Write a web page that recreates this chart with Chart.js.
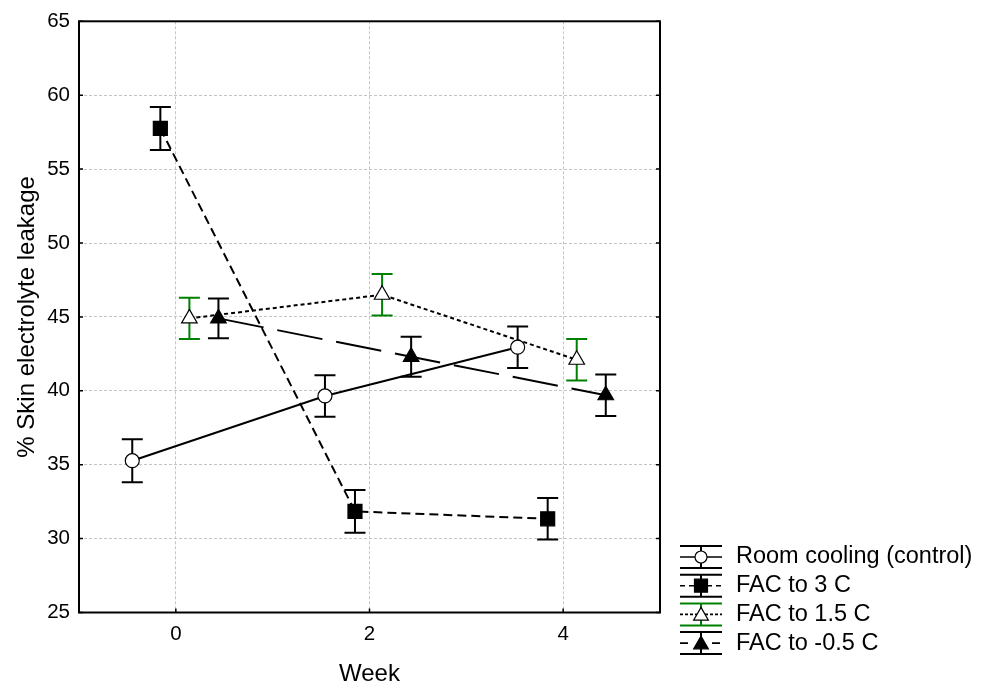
<!DOCTYPE html>
<html>
<head>
<meta charset="utf-8">
<script src="https://cdn.jsdelivr.net/npm/chart.js"></script>
<style>
  html,body{margin:0;padding:0;background:#fff;}
  #wrap{width:984px;height:690px;}
</style>
</head>
<body>
<div id="wrap"><canvas id="c" width="984" height="690"></canvas></div>
<script>
// values
const seriesNames = ["Room cooling (control)", "FAC to 3 C", "FAC to 1.5 C", "FAC to -0.5 C"];
const roomX  = [-0.45, 1.54, 3.53];
const roomY  = [35.27, 39.65, 42.95];
const roomE  = [1.45, 1.4, 1.4];
const fac3X  = [-0.16, 1.85, 3.84];
const fac3Y  = [57.75, 31.84, 31.34];
const fac3E  = [1.45, 1.45, 1.4];
const fac15X = [0.14, 2.13, 4.14];
const fac15Y = [44.9, 46.5, 42.1];
const fac15E = [1.4, 1.4, 1.4];
const facm05X = [0.44, 2.43, 4.44];
const facm05Y = [44.9, 42.3, 39.7];
const facm05E = [1.35, 1.35, 1.4];
const xTicks = [0, 2, 4];
const yTicks = [25, 30, 35, 40, 45, 50, 55, 60, 65];

const FONT = "'Liberation Sans', Arial, sans-serif";
const pts = (xs, ys) => xs.map((x, i) => ({x, y: ys[i]}));

const styles = [
  {dash: [], shape: "circle", fill: "#fff", r: 7, err: "#000", ld: []},
  {dash: [9, 5], shape: "rect", fill: "#000", r: 7, err: "#000", ld: [5, 4]},
  {dash: [4, 3], shape: "triangle", fill: "#fff", r: 9, err: "#008000", ld: [3, 2]},
  {dash: [46, 14], shape: "triangle", fill: "#000", r: 9, err: "#000", ld: [8, 24]}
];
const errs = [roomE, fac3E, fac15E, facm05E];

function marker(ctx, shape, x, y, r, fill) {
  ctx.save();
  ctx.setLineDash([]);
  ctx.fillStyle = fill; ctx.strokeStyle = "#000"; ctx.lineWidth = 1.2;
  ctx.beginPath();
  if (shape === "circle") ctx.arc(x, y, r, 0, Math.PI * 2);
  else if (shape === "rect") ctx.rect(x - r, y - r, 2 * r, 2 * r);
  else { ctx.moveTo(x, y - r); ctx.lineTo(x + r * 0.866, y + r / 2); ctx.lineTo(x - r * 0.866, y + r / 2); ctx.closePath(); }
  ctx.fill(); ctx.stroke();
  ctx.restore();
}

const mkds = (i, xs, ys) => ({
  label: seriesNames[i], data: pts(xs, ys), showLine: true,
  borderColor: "#000", borderWidth: 2, borderDash: styles[i].dash,
  pointRadius: 0, pointHoverRadius: 0, tension: 0
});

const errorBars = {
  id: "errorBars",
  beforeDatasetsDraw(chart) {
    const ctx = chart.ctx, xs = chart.scales.x, ys = chart.scales.y;
    chart.data.datasets.forEach((ds, i) => {
      ctx.save(); ctx.strokeStyle = styles[i].err; ctx.lineWidth = 2;
      ds.data.forEach((p, k) => {
        const px = xs.getPixelForValue(p.x);
        const t = ys.getPixelForValue(p.y + errs[i][k]), b = ys.getPixelForValue(p.y - errs[i][k]);
        ctx.beginPath();
        ctx.moveTo(px, t); ctx.lineTo(px, b);
        ctx.moveTo(px - 10.5, t); ctx.lineTo(px + 10.5, t);
        ctx.moveTo(px - 10.5, b); ctx.lineTo(px + 10.5, b);
        ctx.stroke();
      });
      ctx.restore();
    });
  },
  afterDatasetsDraw(chart) {
    const ctx = chart.ctx, xs = chart.scales.x, ys = chart.scales.y;
    chart.data.datasets.forEach((ds, i) => {
      ds.data.forEach(p => marker(ctx, styles[i].shape, xs.getPixelForValue(p.x), ys.getPixelForValue(p.y), styles[i].r, styles[i].fill));
    });
  },
  afterDraw(chart) {
    const ctx = chart.ctx, a = chart.chartArea, xs = chart.scales.x, ys = chart.scales.y;
    ctx.save();
    ctx.strokeStyle = "#000"; ctx.lineWidth = 2;
    ctx.strokeRect(a.left, a.top, a.right - a.left, a.bottom - a.top);
    ctx.lineWidth = 1.5; ctx.beginPath();
    xTicks.forEach(v => { const px = xs.getPixelForValue(v); ctx.moveTo(px, a.bottom); ctx.lineTo(px, a.bottom - 4); });
    yTicks.forEach(v => { const py = ys.getPixelForValue(v);
      ctx.moveTo(a.left, py); ctx.lineTo(a.left + 4, py);
      ctx.moveTo(a.right, py); ctx.lineTo(a.right - 4, py); });
    ctx.stroke();
    // legend
    ctx.font = "23.5px " + FONT; ctx.textBaseline = "middle"; ctx.fillStyle = "#000";
    seriesNames.forEach((name, i) => {
      const cy = 557 + i * 28.7, cx = 701, s = styles[i];
      ctx.strokeStyle = s.err; ctx.lineWidth = 2; ctx.setLineDash([]);
      ctx.beginPath();
      ctx.moveTo(cx - 21, cy - 11); ctx.lineTo(cx + 21, cy - 11);
      ctx.moveTo(cx - 21, cy + 11); ctx.lineTo(cx + 21, cy + 11);
      ctx.moveTo(cx, cy - 11); ctx.lineTo(cx, cy + 11);
      ctx.stroke();
      ctx.strokeStyle = "#000"; ctx.lineWidth = 1.6; ctx.setLineDash(s.ld);
      ctx.beginPath(); ctx.moveTo(cx - 21, cy); ctx.lineTo(cx + 21, cy); ctx.stroke();
      ctx.setLineDash([]);
      marker(ctx, s.shape, cx, cy + (s.shape === "triangle" ? 1.5 : 0), s.shape === "rect" ? 6.5 : (s.shape === "circle" ? 6 : 8.5), s.fill);
      ctx.fillStyle = "#000";
      ctx.fillText(name, 736, cy);
    });
    ctx.restore();
  }
};

new Chart(document.getElementById("c"), {
  type: "scatter",
  data: {datasets: [mkds(0, roomX, roomY), mkds(1, fac3X, fac3Y), mkds(2, fac15X, fac15Y), mkds(3, facm05X, facm05Y)]},
  options: {
    responsive: false, animation: false, devicePixelRatio: 1,
    layout: {padding: {left: 0, top: 14, right: 324, bottom: 0}},
    plugins: {legend: {display: false}, tooltip: {enabled: false}},
    scales: {
      x: {
        type: "linear", min: -1, max: 5,
        afterBuildTicks: s => { s.ticks = xTicks.map(v => ({value: v})); },
        afterFit: s => { s.height = 77.5; },
        grid: {color: "#c4c4c4", lineWidth: 1, drawTicks: false},
        border: {display: false, dash: [3, 2]},
        ticks: {color: "#000", font: {family: FONT, size: 20.5}, padding: 10, maxRotation: 0},
        title: {display: true, text: "Week", color: "#000", font: {family: FONT, size: 24}, padding: {top: 0, bottom: 1}}
      },
      y: {
        type: "linear", min: 25, max: 65,
        afterBuildTicks: s => { s.ticks = yTicks.map(v => ({value: v})); },
        afterFit: s => { s.width = 79; },
        grid: {color: "#c4c4c4", lineWidth: 1, drawTicks: false},
        border: {display: false, dash: [3, 2]},
        ticks: {color: "#000", font: {family: FONT, size: 20.5}, padding: 9},
        title: {display: true, text: "% Skin electrolyte leakage", color: "#000", font: {family: FONT, size: 24}, padding: {top: 13, bottom: 0}}
      }
    }
  },
  plugins: [errorBars]
});
</script>
</body>
</html>
